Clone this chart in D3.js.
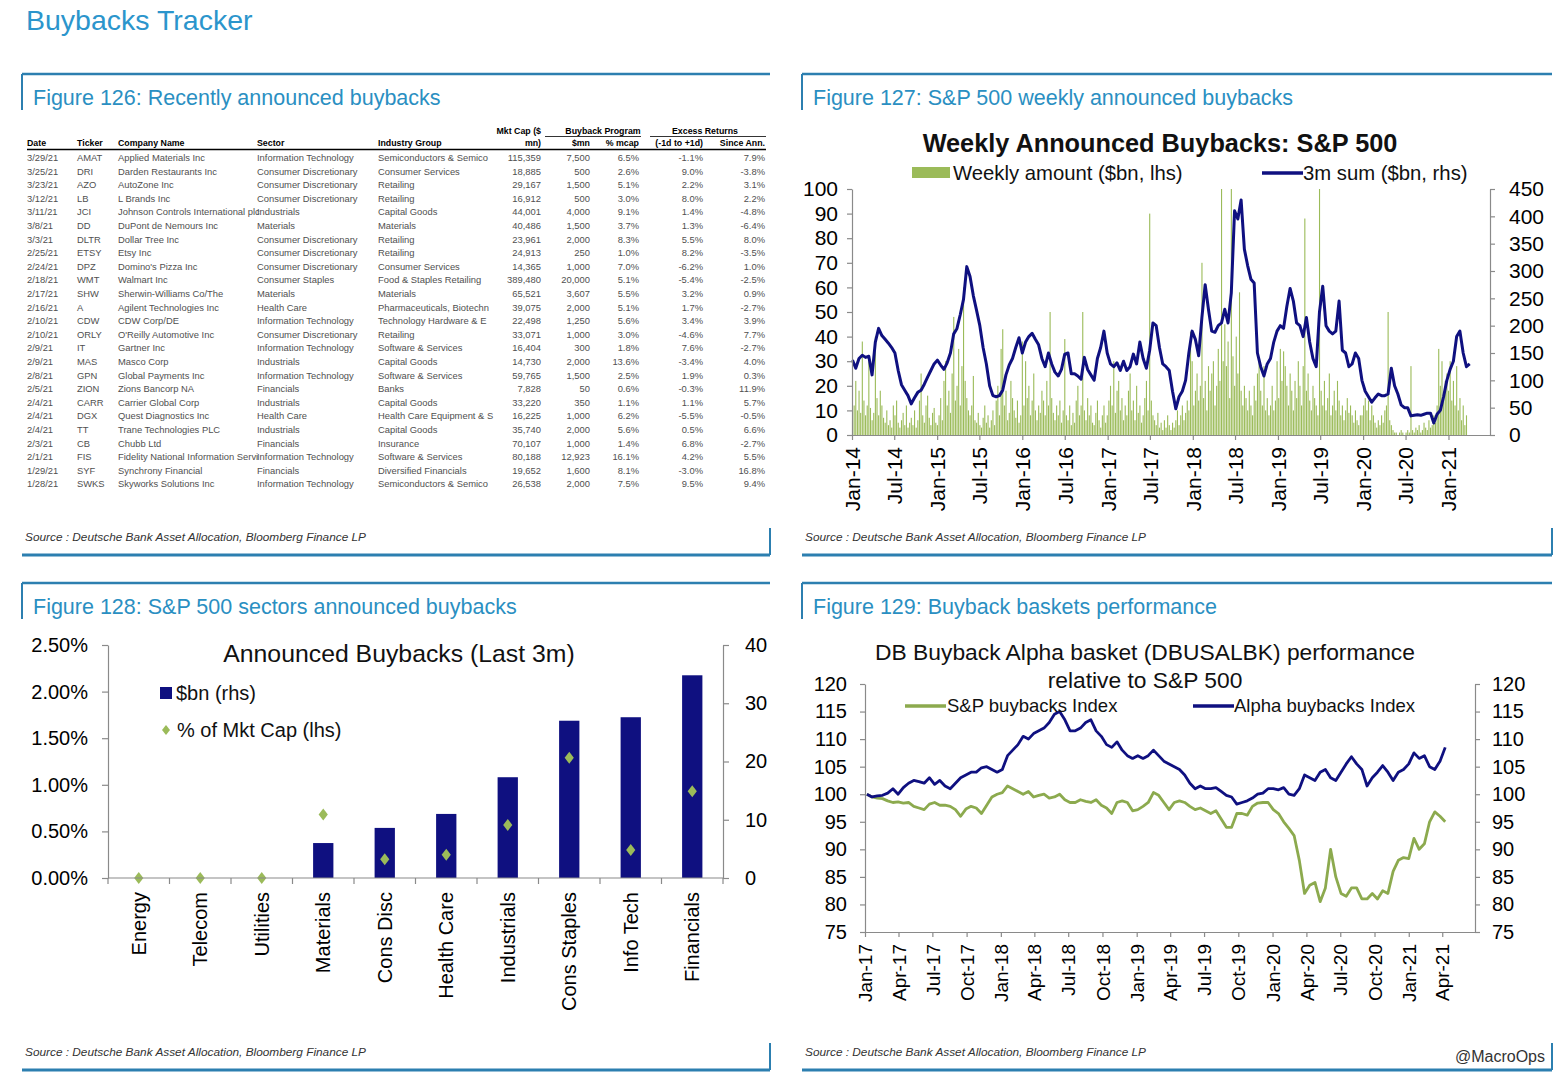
<!DOCTYPE html>
<html><head><meta charset="utf-8">
<script src="https://cdn.jsdelivr.net/npm/d3@7"></script>
<style>
body{margin:0;background:#fff}
svg{display:block}
text{font-family:"Liberation Sans",Arial,Helvetica,sans-serif}
</style>
</head><body>
<svg id="c" width="1556" height="1076"></svg>
<script>
// ---------------- DATA ----------------
// Figure 126 table
const tableDates = ["3/29/21","3/25/21","3/23/21","3/12/21","3/11/21","3/8/21","3/3/21","2/25/21","2/24/21","2/18/21","2/17/21","2/16/21","2/10/21","2/10/21","2/9/21","2/9/21","2/8/21","2/5/21","2/4/21","2/4/21","2/4/21","2/3/21","2/1/21","1/29/21","1/28/21"];
const tableTickers = ["AMAT","DRI","AZO","LB","JCI","DD","DLTR","ETSY","DPZ","WMT","SHW","A","CDW","ORLY","IT","MAS","GPN","ZION","CARR","DGX","TT","CB","FIS","SYF","SWKS"];
const tableNames = ["Applied Materials Inc","Darden Restaurants Inc","AutoZone Inc","L Brands Inc","Johnson Controls International plc","DuPont de Nemours Inc","Dollar Tree Inc","Etsy Inc","Domino's Pizza Inc","Walmart Inc","Sherwin-Williams Co/The","Agilent Technologies Inc","CDW Corp/DE","O'Reilly Automotive Inc","Gartner Inc","Masco Corp","Global Payments Inc","Zions Bancorp NA","Carrier Global Corp","Quest Diagnostics Inc","Trane Technologies PLC","Chubb Ltd","Fidelity National Information Servi","Synchrony Financial","Skyworks Solutions Inc"];
const tableSectors = ["Information Technology","Consumer Discretionary","Consumer Discretionary","Consumer Discretionary","Industrials","Materials","Consumer Discretionary","Consumer Discretionary","Consumer Discretionary","Consumer Staples","Materials","Health Care","Information Technology","Consumer Discretionary","Information Technology","Industrials","Information Technology","Financials","Industrials","Health Care","Industrials","Financials","Information Technology","Financials","Information Technology"];
const tableIndustries = ["Semiconductors & Semico","Consumer Services","Retailing","Retailing","Capital Goods","Materials","Retailing","Retailing","Consumer Services","Food & Staples Retailing","Materials","Pharmaceuticals, Biotechn","Technology Hardware & E","Retailing","Software & Services","Capital Goods","Software & Services","Banks","Capital Goods","Health Care Equipment & S","Capital Goods","Insurance","Software & Services","Diversified Financials","Semiconductors & Semico"];
const tableMktCap = [115359,18885,29167,16912,44001,40486,23961,24913,14365,389480,65521,39075,22498,33071,16404,14730,59765,7828,33220,16225,35740,70107,80188,19652,26538];
const tableBuyback = [7500,500,1500,500,4000,1500,2000,250,1000,20000,3607,2000,1250,1000,300,2000,1500,50,350,1000,2000,1000,12923,1600,2000];
const tablePctMcap = [6.5,2.6,5.1,3.0,9.1,3.7,8.3,1.0,7.0,5.1,5.5,5.1,5.6,3.0,1.8,13.6,2.5,0.6,1.1,6.2,5.6,1.4,16.1,8.1,7.5];
const tableRet1d = [-1.1,9.0,2.2,8.0,1.4,1.3,5.5,8.2,-6.2,-5.4,3.2,1.7,3.4,-4.6,7.6,-3.4,1.9,-0.3,1.1,-5.5,0.5,6.8,4.2,-3.0,9.5];
const tableRetSince = [7.9,-3.8,3.1,2.2,-4.8,-6.4,8.0,-3.5,1.0,-2.5,0.9,-2.7,3.9,7.7,-2.7,4.0,0.3,11.9,5.7,-0.5,6.6,-2.7,5.5,16.8,9.4];

// Figure 127: weekly announced buybacks ($bn, lhs), weekly from 2014-01-03
const weeklyStart = "2014-01-03";
const weekly2014 = [6,12,22,10,18,9,38,14,8,12,30,11,6,9,40,15,8,18,12,7,5,10,4,6,3,12,8,14,5,3,6,9,4,12,3,5,7,4,10,3,6,14,25,8,5,12,16,7,4,9,11,5];
const weekly2015 = [4,8,15,6,22,30,12,18,9,25,48,14,20,35,12,28,60,22,15,10,8,12,24,6,5,9,4,3,7,12,5,8,3,6,10,4,14,20,8,35,43,12,18,6,9,22,15,10,7,14,5,8];
const weekly2016 = [38,12,30,15,20,8,14,25,10,6,12,9,18,14,8,22,12,50,15,9,6,12,8,14,5,10,39,8,6,12,4,9,5,14,20,8,12,50,10,6,15,8,12,5,4,9,14,6,3,8,12,5];
const weekly2017 = [8,14,20,12,30,9,18,22,10,15,6,12,8,18,25,10,14,6,20,9,12,5,8,15,22,10,90,14,8,6,4,9,3,5,2,6,3,8,4,2,5,3,6,10,4,8,12,6,9,14,10,42];
const weekly2018 = [30,12,18,25,14,20,70,15,22,10,28,18,25,30,12,20,35,22,100,30,45,28,38,15,100,32,20,40,25,58,18,12,20,15,10,18,12,8,20,14,25,30,18,12,28,10,15,8,12,20,10,14];
const weekly2019 = [30,15,35,22,34,28,20,12,25,18,10,22,15,30,20,12,28,88,18,25,14,10,20,15,12,8,100,18,12,22,10,15,25,8,12,18,10,22,14,8,12,6,10,15,9,12,8,5,10,6,4,8];
const weekly2020 = [8,12,15,10,14,6,12,8,5,3,6,4,8,5,10,12,50,6,4,2,1,1,0,1,2,1,0,1,2,1,28,2,1,3,2,4,1,2,5,3,2,6,3,4,8,5,12,35,20,30,15,22];
const weekly2021 = [25,18,30,14,22,12,28,10,15,6,12,4,8];
// 3m sum ($bn, rhs), every 2 weeks from 2014-01-03
const sum3m2014 = [137,122,140,146,142,144,110,170,195,182,175,168,160,150,118,92,82,72,57,68,78,82,93,106,118,130];
const sum3m2015 = [137,128,120,132,150,185,195,220,248,308,290,255,228,200,160,130,90,72,70,72,82,110,128,140,160,178];
const sum3m2016 = [150,170,180,186,175,165,140,125,150,130,115,108,120,148,150,112,112,108,102,142,120,110,100,140,160,190];
const sum3m2017 = [150,130,125,132,118,135,118,125,148,130,170,140,122,155,205,200,160,130,125,118,80,48,70,80,100,150];
const sum3m2018 = [190,175,145,215,275,230,190,188,200,205,230,205,260,410,395,430,340,310,285,278,150,125,108,130,140,170];
const sum3m2019 = [190,200,195,235,268,245,205,200,180,215,170,140,125,225,272,200,190,185,190,245,155,150,125,130,150,140];
const sum3m2020 = [100,80,70,60,68,75,72,72,75,122,90,75,55,50,50,35,36,37,36,38,40,40,22,38,45,70];
const sum3m2021 = [100,120,135,180,190,150,125,130];
const f127LeftTicks = [0,10,20,30,40,50,60,70,80,90,100];
const f127RightTicks = [0,50,100,150,200,250,300,350,400,450];

// Figure 128
const sectorNames = ["Energy","Telecom","Utilities","Materials","Cons Disc","Health Care","Industrials","Cons Staples","Info Tech","Financials"];
const sectorBn = [0,0,0,6.0,8.6,11.0,17.3,27.0,27.6,34.8];
const sectorPctMktCap = [0,0,0,0.68,0.20,0.25,0.57,1.29,0.30,0.93];
const f128LeftTicks = [0,0.5,1.0,1.5,2.0,2.5];
const f128RightTicks = [0,10,20,30,40];

// Figure 129: every 2 weeks from 2017-01-06
const perfStart = "2017-01-06";
const spBuybacksIdx = [100,99.5,99.3,99.2,98.8,98.5,98.6,98.4,98.5,97.8,97.5,97.2,98.2,98.5,98,98,97.8,97.2,96,97.3,97.8,97.5,96.5,98,99.5,100,100.3,101.5,101,100.5,100,100.5,99.5,99.8,100,99.3,99.5,100,99,98.5,98.5,99,98.7,98.5,99,98,97.5,96.5,98.5,98.8,98.5,97,97.2,97.8,98.5,100.3,99.8,98.5,97.2,98.5,98.8,98.5,97.8,97.2,97.5,97,96.5,97,95.5,94,94,96.5,96.5,96.2,97.8,98.4,98.5,98.5,97.2,96.5,95,93.8,92.5,88,82,83.5,84,80.5,83,90,85,82,81.5,83,83,81,81,82,81,82.5,82,86,88,88.5,88.3,92,90,91,95,96.8,96,95];
const alphaBuybacksIdx = [100,99.5,99.7,99.8,100.2,101,100,101.2,102,102.5,102.3,102,103,101.8,102.5,101.5,101,102,103,103.5,104,104,104.8,105,104.5,104,104.5,107,108,109,110.5,110,111,111.5,112,113,114.5,115,113.5,111.5,111.5,112,113,113.5,111.5,110.5,109,108.5,109.5,108,107,106.5,107,106.5,107,108,107,106,105.5,105,104.5,103.5,102,101,101.5,101,101,101.2,100.5,99.8,99.5,98.2,98.5,98.8,99.3,100,100.2,101,101,100.8,101.2,100,99.8,101,103.5,103,102.5,104,104.5,103,102.5,104,105.5,106.8,105.5,104.5,101.5,103,104,105.2,104,102.5,104,104.5,105.5,107.5,106.5,107,105,104.5,106,108.5];
const f129Ticks = [75,80,85,90,95,100,105,110,115,120];

// ---------------- DRAW ----------------
const svg = d3.select("#c");
svg.append("rect").attr("width",1556).attr("height",1076).attr("fill","#fff");
const TITLEBLUE = "#2a8fc2", FRAME = "#2c7fb0";
const NAVY = "#0f1080", GREEN = "#9bbb59", GREEN2 = "#8caa4e";
const parse = d3.timeParse("%Y-%m-%d");

svg.append("text").attr("x",26).attr("y",30).attr("font-size",28.5).attr("fill","#2b95cc").text("Buybacks Tracker");

function panel(x0,x1,yTop,yBot,title){
  const g = svg.append("g");
  g.append("line").attr("x1",x0).attr("x2",x1).attr("y1",yTop).attr("y2",yTop).attr("stroke",FRAME).attr("stroke-width",2.5);
  g.append("line").attr("x1",x0).attr("x2",x0).attr("y1",yTop).attr("y2",yTop+36).attr("stroke",FRAME).attr("stroke-width",2);
  g.append("text").attr("x",x0+11).attr("y",yTop+31).attr("font-size",21.5).attr("fill",TITLEBLUE).text(title);
  g.append("line").attr("x1",x0).attr("x2",x1).attr("y1",yBot).attr("y2",yBot).attr("stroke",FRAME).attr("stroke-width",3);
  g.append("line").attr("x1",x1).attr("x2",x1).attr("y1",yBot-27).attr("y2",yBot).attr("stroke",FRAME).attr("stroke-width",2);
  g.append("text").attr("x",x0+3).attr("y",yBot-14).attr("font-size",11.3).attr("font-style","italic").attr("fill","#333")
    .attr("textLength",341).attr("lengthAdjust","spacingAndGlyphs")
    .text("Source : Deutsche Bank Asset Allocation, Bloomberg Finance LP");
}
panel(22,770,74,555,"Figure 126: Recently announced buybacks");
panel(802,1552,74,555,"Figure 127: S&P 500 weekly announced buybacks");
panel(22,770,583,1070,"Figure 128: S&P 500 sectors announced buybacks");
panel(802,1552,583,1070,"Figure 129: Buyback baskets performance");
svg.append("text").attr("x",1545).attr("y",1062).attr("text-anchor","end").attr("font-size",16).attr("fill","#333").text("@MacroOps");

// ---------- Figure 126 table ----------
(function(){
  const g = svg.append("g").attr("font-size",9.4);
  const comma = d3.format(",");
  const pct = v => v.toFixed(1) + "%";
  const cols = [
    {x:27,  anchor:"start", get:i=>tableDates[i]},
    {x:77,  anchor:"start", get:i=>tableTickers[i]},
    {x:118, anchor:"start", get:i=>tableNames[i]},
    {x:257, anchor:"start", get:i=>tableSectors[i]},
    {x:378, anchor:"start", get:i=>tableIndustries[i]},
    {x:541, anchor:"end", get:i=>comma(tableMktCap[i])},
    {x:590, anchor:"end", get:i=>comma(tableBuyback[i])},
    {x:639, anchor:"end", get:i=>pct(tablePctMcap[i])},
    {x:703, anchor:"end", get:i=>pct(tableRet1d[i])},
    {x:765, anchor:"end", get:i=>pct(tableRetSince[i])}
  ];
  const heads = ["Date","Ticker","Company Name","Sector","Industry Group","mn)","$mn","% mcap","(-1d to +1d)","Since Ann."];
  const yRow = d3.scaleLinear().domain([0,tableTickers.length-1]).range([161,161+24*13.6]);
  const hg = g.append("g").attr("font-weight","bold").attr("fill","#000").attr("font-size",8.8);
  cols.forEach((c,j)=>{
    hg.append("text").attr("x",c.x).attr("y",146).attr("text-anchor",c.anchor).text(heads[j]);
  });
  hg.append("text").attr("x",541).attr("y",134).attr("text-anchor","end").text("Mkt Cap ($");
  hg.append("text").attr("x",603).attr("y",134).attr("text-anchor","middle").text("Buyback Program");
  hg.append("text").attr("x",705).attr("y",134).attr("text-anchor","middle").text("Excess Returns");
  g.append("line").attr("x1",545).attr("x2",641).attr("y1",136.5).attr("y2",136.5).attr("stroke","#000").attr("stroke-width",0.8);
  g.append("line").attr("x1",650).attr("x2",766).attr("y1",136.5).attr("y2",136.5).attr("stroke","#000").attr("stroke-width",0.8);
  g.append("line").attr("x1",27).attr("x2",766).attr("y1",149.5).attr("y2",149.5).attr("stroke","#000").attr("stroke-width",1.6);
  const rows = g.selectAll("g.row").data(d3.range(tableTickers.length)).join("g").attr("class","row").attr("fill","#505050");
  cols.forEach(c=>{
    rows.append("text").attr("x",c.x).attr("y",i=>yRow(i)).attr("text-anchor",c.anchor).text(i=>c.get(i));
  });
})();

function styleAxis(g,fs){
  g.select(".domain").attr("stroke","#8a8a8a").attr("stroke-width",1.2);
  g.selectAll(".tick line").attr("stroke","#8a8a8a").attr("stroke-width",1.2);
  g.selectAll(".tick text").attr("font-size",fs).attr("fill","#000").attr("font-family","Liberation Sans, Arial, sans-serif");
}

// ---------- Figure 127 ----------
(function(){
  const g = svg.append("g");
  const x = d3.scaleTime().domain([new Date(2014,0,1), new Date(2021,5,28)]).range([852,1490]);
  const yL = d3.scaleLinear().domain([0,100]).range([435,189]);
  const yR = d3.scaleLinear().domain([0,450]).range([435,189]);
  const start = parse(weeklyStart);
  const weekly = [].concat(weekly2014,weekly2015,weekly2016,weekly2017,weekly2018,weekly2019,weekly2020,weekly2021)
    .map((v,i)=>({d:d3.timeWeek.offset(start,i), v}));
  const sums = [].concat(sum3m2014,sum3m2015,sum3m2016,sum3m2017,sum3m2018,sum3m2019,sum3m2020,sum3m2021)
    .map((v,i)=>({d:d3.timeWeek.offset(start,2*i), v}));
  g.append("g").selectAll("rect").data(weekly).join("rect")
    .attr("x",d=>x(d.d)-0.5).attr("width",1.1)
    .attr("y",d=>yL(d.v)).attr("height",d=>yL(0)-yL(d.v)).attr("fill",GREEN);
  g.append("path").datum(sums).attr("fill","none").attr("stroke",NAVY).attr("stroke-width",3).attr("stroke-linejoin","round")
    .attr("d",d3.line().x(d=>x(d.d)).y(d=>yR(d.v)));
  const ax = g.append("g").attr("transform","translate(0,435)")
    .call(d3.axisBottom(x).tickValues(d3.timeMonth.every(6).range(new Date(2014,0,1),new Date(2021,1,1))).tickFormat(d3.timeFormat("%b-%y")).tickSize(5).tickSizeOuter(0));
  styleAxis(ax,21);
  ax.selectAll(".tick text").attr("transform","rotate(-90)").attr("x",-12).attr("y",0).attr("dy","0.35em").attr("text-anchor","end");
  const al = g.append("g").attr("transform","translate(852,0)").call(d3.axisLeft(yL).tickValues(f127LeftTicks).tickSize(5).tickPadding(9).tickSizeOuter(0));
  styleAxis(al,21);
  const ar = g.append("g").attr("transform","translate(1490,0)").call(d3.axisRight(yR).tickValues(f127RightTicks).tickSize(5).tickPadding(14).tickSizeOuter(0));
  styleAxis(ar,21);
  g.append("text").attr("x",1160).attr("y",152).attr("text-anchor","middle").attr("font-size",25.3).attr("font-weight","bold").attr("fill","#111")
    .text("Weekly Announced Buybacks: S&P 500");
  g.append("rect").attr("x",912).attr("y",167).attr("width",38).attr("height",11).attr("fill",GREEN);
  g.append("text").attr("x",953).attr("y",180).attr("font-size",20.3).attr("fill","#111").text("Weekly amount ($bn, lhs)");
  g.append("line").attr("x1",1262).attr("x2",1303).attr("y1",173).attr("y2",173).attr("stroke",NAVY).attr("stroke-width",3.5);
  g.append("text").attr("x",1303).attr("y",180).attr("font-size",20.3).attr("fill","#111").text("3m sum ($bn, rhs)");
})();

// ---------- Figure 128 ----------
(function(){
  const g = svg.append("g");
  const x = d3.scaleBand().domain(sectorNames).range([108,723]);
  const yL = d3.scaleLinear().domain([0,2.5]).range([878,645]);
  const yR = d3.scaleLinear().domain([0,40]).range([878,645]);
  const bw = x.step()*0.33;
  g.selectAll("rect.bar").data(sectorNames).join("rect").attr("class","bar")
    .attr("x",(s)=>x(s)+x.bandwidth()/2-bw/2).attr("width",bw)
    .attr("y",(s,i)=>yR(sectorBn[i])).attr("height",(s,i)=>yR(0)-yR(sectorBn[i])).attr("fill",NAVY);
  const diamond = "M0,-6L4.6,0L0,6L-4.6,0Z";
  g.selectAll("path.dia").data(sectorNames).join("path").attr("class","dia").attr("d",diamond)
    .attr("transform",(s,i)=>`translate(${x(s)+x.bandwidth()/2},${yL(sectorPctMktCap[i])})`).attr("fill",GREEN);
  g.append("line").attr("x1",108).attr("x2",723).attr("y1",878).attr("y2",878).attr("stroke","#8a8a8a").attr("stroke-width",1.2);
  g.selectAll("line.bt").data(d3.range(sectorNames.length+1)).join("line").attr("class","bt")
    .attr("x1",i=>108+i*x.step()).attr("x2",i=>108+i*x.step()).attr("y1",878).attr("y2",884).attr("stroke","#8a8a8a").attr("stroke-width",1.2);
  g.selectAll("text.cat").data(sectorNames).join("text").attr("class","cat")
    .attr("transform",s=>`translate(${x(s)+x.bandwidth()/2},892) rotate(-90)`).attr("text-anchor","end").attr("dy","0.35em")
    .attr("font-size",20).attr("fill","#000").text(s=>s);
  const al = g.append("g").attr("transform","translate(108,0)").call(d3.axisLeft(yL).tickValues(f128LeftTicks).tickFormat(d=>d.toFixed(2)+"%").tickSize(6).tickPadding(14).tickSizeOuter(0));
  styleAxis(al,20);
  const ar = g.append("g").attr("transform","translate(723,0)").call(d3.axisRight(yR).tickValues(f128RightTicks).tickSize(6).tickPadding(16).tickSizeOuter(0));
  styleAxis(ar,20);
  g.append("text").attr("x",399).attr("y",662).attr("text-anchor","middle").attr("font-size",24.8).attr("fill","#111").text("Announced Buybacks (Last 3m)");
  g.append("rect").attr("x",160).attr("y",687).attr("width",12).attr("height",12).attr("fill",NAVY);
  g.append("text").attr("x",176).attr("y",700).attr("font-size",20).attr("fill","#111").text("$bn (rhs)");
  g.append("path").attr("d","M0,-5L4,0L0,5L-4,0Z").attr("transform","translate(166,730)").attr("fill",GREEN);
  g.append("text").attr("x",177).attr("y",737).attr("font-size",20).attr("fill","#111").text("% of Mkt Cap (lhs)");
})();

// ---------- Figure 129 ----------
(function(){
  const g = svg.append("g");
  const x = d3.scaleTime().domain([new Date(2017,0,1), new Date(2021,5,28)]).range([865,1475]);
  const y = d3.scaleLinear().domain([75,120]).range([932,684]);
  const start = parse(perfStart);
  const sp = spBuybacksIdx.map((v,i)=>({d:d3.timeWeek.offset(start,2*i), v}));
  const al = alphaBuybacksIdx.map((v,i)=>({d:d3.timeWeek.offset(start,2*i), v}));
  const line = d3.line().x(d=>x(d.d)).y(d=>y(d.v));
  g.append("path").datum(sp).attr("fill","none").attr("stroke",GREEN2).attr("stroke-width",2.8).attr("stroke-linejoin","round").attr("d",line);
  g.append("path").datum(al).attr("fill","none").attr("stroke",NAVY).attr("stroke-width",2.8).attr("stroke-linejoin","round").attr("d",line);
  const ax = g.append("g").attr("transform","translate(0,932)")
    .call(d3.axisBottom(x).tickValues(d3.timeMonth.every(3).range(new Date(2017,0,1),new Date(2021,4,1))).tickFormat(d3.timeFormat("%b-%y")).tickSize(5).tickSizeOuter(0));
  styleAxis(ax,19);
  ax.selectAll(".tick text").attr("transform","rotate(-90)").attr("x",-12).attr("y",0).attr("dy","0.35em").attr("text-anchor","end");
  const aL = g.append("g").attr("transform","translate(865,0)").call(d3.axisLeft(y).tickValues(f129Ticks).tickSize(5).tickPadding(13).tickSizeOuter(0));
  styleAxis(aL,20);
  const aR = g.append("g").attr("transform","translate(1475,0)").call(d3.axisRight(y).tickValues(f129Ticks).tickSize(5).tickPadding(12).tickSizeOuter(0));
  styleAxis(aR,20);
  g.append("text").attr("x",1145).attr("y",660).attr("text-anchor","middle").attr("font-size",22.8).attr("fill","#111").text("DB Buyback Alpha basket (DBUSALBK) performance");
  g.append("text").attr("x",1145).attr("y",688).attr("text-anchor","middle").attr("font-size",22.8).attr("fill","#111").text("relative to S&P 500");
  g.append("line").attr("x1",905).attr("x2",946).attr("y1",706).attr("y2",706).attr("stroke",GREEN2).attr("stroke-width",3.5);
  g.append("text").attr("x",947).attr("y",712).attr("font-size",18.5).attr("fill","#111").text("S&P buybacks Index");
  g.append("line").attr("x1",1193).attr("x2",1234).attr("y1",706).attr("y2",706).attr("stroke",NAVY).attr("stroke-width",3.5);
  g.append("text").attr("x",1234).attr("y",712).attr("font-size",18.5).attr("fill","#111").text("Alpha buybacks Index");
})();
</script>
</body></html>
